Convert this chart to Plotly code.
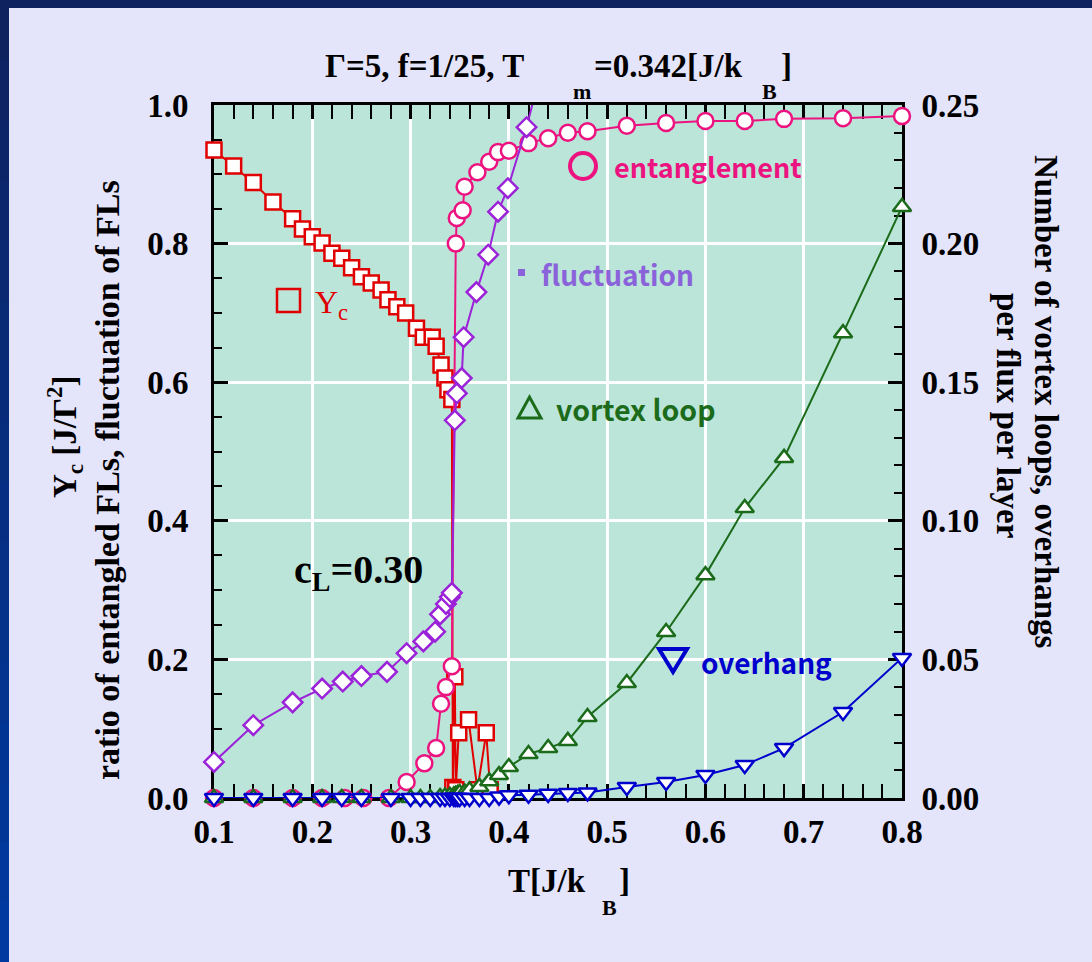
import plotly.graph_objects as go

# ---- data -------------------------------------------------------------
# critical helicity modulus Y_c  [J/Gamma^2]  (left axis)
T_yc = [0.10, 0.12, 0.14, 0.16, 0.18, 0.19, 0.20, 0.21, 0.22, 0.23, 0.24, 0.25,
        0.26, 0.27, 0.277, 0.286, 0.295, 0.306, 0.313, 0.322, 0.326, 0.331, 0.335,
        0.338, 0.342, 0.343, 0.345, 0.346, 0.349, 0.359, 0.368, 0.377, 0.381]
Y_c = [0.935, 0.912, 0.888, 0.860, 0.836, 0.821, 0.810, 0.801, 0.786, 0.779, 0.765, 0.752,
       0.743, 0.733, 0.719, 0.709, 0.700, 0.678, 0.665, 0.665, 0.652, 0.625, 0.606,
       0.589, 0.575, 0.015, 0.175, 0.012, 0.094, 0.113, 0.012, 0.094, 0.012]

# ratio of entangled flux lines (left axis)
T_ent = [0.10, 0.14, 0.18, 0.21, 0.233, 0.252, 0.278, 0.296, 0.314, 0.326, 0.331, 0.336,
         0.342, 0.346, 0.347, 0.353, 0.355, 0.368, 0.380, 0.389, 0.40, 0.42, 0.44, 0.46,
         0.48, 0.52, 0.56, 0.60, 0.64, 0.68, 0.74, 0.80]
entangle = [0.0, 0.0, 0.0, 0.0, 0.0, 0.0, 0.0, 0.023, 0.050, 0.072, 0.136, 0.160,
            0.190, 0.800, 0.837, 0.848, 0.882, 0.903, 0.918, 0.932, 0.934, 0.945, 0.952, 0.960,
            0.962, 0.970, 0.974, 0.977, 0.977, 0.980, 0.981, 0.984]

# fluctuation of flux lines (left axis)
T_fl = [0.10, 0.14, 0.18, 0.21, 0.231, 0.25, 0.276, 0.296, 0.313, 0.325, 0.330, 0.336,
        0.340, 0.342, 0.345, 0.347, 0.352, 0.354, 0.367, 0.379, 0.389, 0.399, 0.418, 0.44]
fluct = [0.052, 0.105, 0.138, 0.158, 0.168, 0.176, 0.182, 0.209, 0.226, 0.240, 0.265, 0.280,
         0.290, 0.296, 0.545, 0.584, 0.606, 0.665, 0.730, 0.784, 0.846, 0.880, 0.968, 1.09]

# vortex loops / overhangs per flux per layer (right axis)
T_num = [0.10, 0.14, 0.18, 0.21, 0.23, 0.25, 0.28, 0.30, 0.31, 0.32, 0.33, 0.335, 0.34,
         0.344, 0.346, 0.348, 0.35, 0.355, 0.36, 0.37, 0.38, 0.39, 0.40, 0.42, 0.44,
         0.46, 0.48, 0.52, 0.56, 0.60, 0.64, 0.68, 0.74, 0.80]
loops = [0, 0, 0, 0, 0, 0, 0, 0, 0, 0, 0.0003, 0.0005, 0.0008,
         0.001, 0.0012, 0.0015, 0.0018, 0.002, 0.0028, 0.004, 0.006, 0.0083, 0.0112, 0.0159, 0.018,
         0.0206, 0.0292, 0.0415, 0.0599, 0.0804, 0.1046, 0.1227, 0.1677, 0.2132]
overhangs = [0, 0, 0, 0, 0, 0, 0, 0, 0, 0, 0, 0, 0,
             0, 0, 0, 0, 0, 0, 0, 0, 0.0005, 0.001, 0.0012, 0.0015,
             0.0018, 0.002, 0.004, 0.0058, 0.0083, 0.0119, 0.018, 0.031, 0.0505]

x_ticks = [0.1, 0.2, 0.3, 0.4, 0.5, 0.6, 0.7, 0.8]

# ---- styling ------------------------------------------------------------
RED = "#E10000"
PINK = "#EC1380"
PURPLE = "#9B22D8"
PURPLE_TXT = "#8A62DA"
GREEN = "#1B6B1B"
BLUE = "#0000CC"
PAGE_BG = "#E4E4FB"
PLOT_BG = "#BBE5D8"
SERIF = "Liberation Serif"
SANS = "Noto Sans CJK JP"

W, H = 1092, 962
L, R, TOP, BOT = 214, 902, 105, 798


def px(x):
    return (x - L) / (R - L)


def py(y):
    return (BOT - y) / (BOT - TOP)


fig = go.Figure()

fig.add_trace(go.Scatter(
    x=T_num, y=loops, yaxis="y2", mode="lines+markers", cliponaxis=False,
    line=dict(color=GREEN, width=2),
    marker=dict(symbol="triangle-up", size=16, color="white",
                line=dict(color=GREEN, width=2.5))))

fig.add_trace(go.Scatter(
    x=T_num, y=overhangs, yaxis="y2", mode="lines+markers", cliponaxis=False,
    line=dict(color=BLUE, width=2),
    marker=dict(symbol="triangle-down", size=16, color="white",
                line=dict(color=BLUE, width=2.5))))

fig.add_trace(go.Scatter(
    x=T_yc, y=Y_c, mode="lines+markers", cliponaxis=False,
    line=dict(color=RED, width=2),
    marker=dict(symbol="square", size=15, color="white",
                line=dict(color=RED, width=2.5))))

fig.add_trace(go.Scatter(
    x=T_ent, y=entangle, mode="lines+markers", cliponaxis=False,
    line=dict(color=PINK, width=2),
    marker=dict(symbol="circle", size=16, color="white",
                line=dict(color=PINK, width=2.5))))

fig.add_trace(go.Scatter(
    x=T_fl, y=fluct, mode="lines+markers", cliponaxis=False,
    line=dict(color=PURPLE, width=2),
    marker=dict(symbol="diamond", size=15, color="white",
                opacity=[1 if v <= 1 else 0 for v in fluct],
                line=dict(color=PURPLE, width=2.5))))

tickfont = dict(family=SERIF, size=33, color="black", weight="bold")
common = dict(ticks="inside", ticklen=14, tickwidth=2.5, tickcolor="black",
              showline=True, linewidth=3, linecolor="black", zeroline=False,
              tickfont=tickfont, layer="below traces")

fig.update_layout(
    width=W, height=H, autosize=False,
    margin=dict(l=L, r=W - R, t=TOP, b=H - BOT, pad=0),
    paper_bgcolor=PAGE_BG, plot_bgcolor=PLOT_BG,
    showlegend=False,
    xaxis=dict(range=[0.1, 0.8], tickvals=x_ticks, tickformat=".1f",
               mirror="allticks", showgrid=True, gridcolor="white", gridwidth=3,
               ticklabelstandoff=2,
               minor=dict(dtick=0.02, tick0=0.1, ticks="inside", ticklen=8,
                          tickwidth=2, tickcolor="black", showgrid=False),
               **common),
    yaxis=dict(range=[0, 1], dtick=0.2, tick0=0, tickformat=".1f",
               showgrid=True, gridcolor="white", gridwidth=3,
               ticklabelstandoff=16,
               minor=dict(dtick=0.05, tick0=0, ticks="inside", ticklen=8,
                          tickwidth=2, tickcolor="black", showgrid=False),
               **common),
    yaxis2=dict(range=[0, 0.25], dtick=0.05, tick0=0, tickformat=".2f",
                overlaying="y", side="right", showgrid=False,
                ticklabelstandoff=10,
                minor=dict(dtick=0.01, tick0=0, ticks="inside", ticklen=8,
                           tickwidth=2, tickcolor="black", showgrid=False),
                **common),
)

ann = []


def text(x, y, s, size, color="black", family=SERIF, angle=0, xanchor="center"):
    ann.append(dict(x=px(x), y=py(y), xref="paper", yref="paper", text=s,
                    showarrow=False, textangle=angle, xanchor=xanchor, yanchor="middle",
                    font=dict(family=family, size=size, color=color)))


# title, with low-set subscripts
text(526, 66, "<b>Γ=5, f=1/25, T</b>", 33, xanchor="right")
text(582, 91, "<b>m</b>", 22)
text(592, 66, "<b>=0.342[J/k</b>", 33, xanchor="left")
text(769, 91, "<b>B</b>", 22)
text(779, 66, "<b>]</b>", 33, xanchor="left")

# x-axis title
text(588, 881, "<b>T[J/k</b>", 33, xanchor="right")
text(609, 908, "<b>B</b>", 22)
text(617, 881, "<b>]</b>", 33, xanchor="left")

# y-axis titles
text(64, 437, "<b>Y<sub>c</sub> [J/Γ<sup>2</sup>]</b>", 33, angle=-90)
text(107, 480, "<b>ratio of entangled FLs, fluctuation of FLs</b>", 34, angle=-90)
text(1046, 402, "<b>Number of vortex loops, overhangs</b>", 33, angle=90)
text(1008, 415, "<b>per flux per layer</b>", 33, angle=90)

# in-plot labels
text(612, 166, "<b>entanglement</b>", 27, PINK, SANS, xanchor="left")
text(539, 274, "<b>fluctuation</b>", 28, PURPLE_TXT, SANS, xanchor="left")
text(554, 408, "<b>vortex loop</b>", 28.5, GREEN, SANS, xanchor="left")
text(699, 662, "<b>overhang</b>", 28, BLUE, SANS, xanchor="left")
text(313, 304, "Y<sub>c</sub>", 32, RED, SERIF, xanchor="left")
text(292, 572, "<b>c<sub>L</sub>=0.30</b>", 40, "black", SERIF, xanchor="left")
fig.update_layout(annotations=ann)

shapes = []


def pshape(**kw):
    kw.setdefault("xref", "paper")
    kw.setdefault("yref", "paper")
    shapes.append(kw)


# key symbols next to the in-plot labels
pshape(type="rect", x0=px(277), x1=px(300), y0=py(289), y1=py(312),
       line=dict(color=RED, width=2.5))
pshape(type="circle", x0=px(570), x1=px(596), y0=py(153), y1=py(179),
       line=dict(color=PINK, width=4))
pshape(type="rect", x0=px(518), x1=px(525), y0=py(269), y1=py(276),
       line=dict(width=0), fillcolor=PURPLE_TXT)
pshape(type="path",
       path=f"M {px(518)} {py(418)} L {px(541)} {py(418)} L {px(529.5)} {py(397)} Z",
       line=dict(color=GREEN, width=3))
pshape(type="path",
       path=f"M {px(659)} {py(649)} L {px(687)} {py(649)} L {px(673)} {py(672)} Z",
       line=dict(color=BLUE, width=4))

# dark frame along the top and left page edges
pshape(type="rect", x0=px(0), x1=px(W), y0=py(0), y1=py(8),
       line=dict(width=0), fillcolor="#0E2260", layer="above")
n_seg = 16
for i in range(n_seg):
    f = i / (n_seg - 1)
    r = int(14 + (0 - 14) * f)
    g = int(34 + (58 - 34) * f)
    b = int(96 + (160 - 96) * f)
    pshape(type="rect", x0=px(0), x1=px(9),
           y0=py(H * i / n_seg), y1=py(H * (i + 1) / n_seg + 1),
           line=dict(width=0), fillcolor=f"rgb({r},{g},{b})", layer="above")

fig.update_layout(shapes=shapes)

fig.write_html("out.html")
